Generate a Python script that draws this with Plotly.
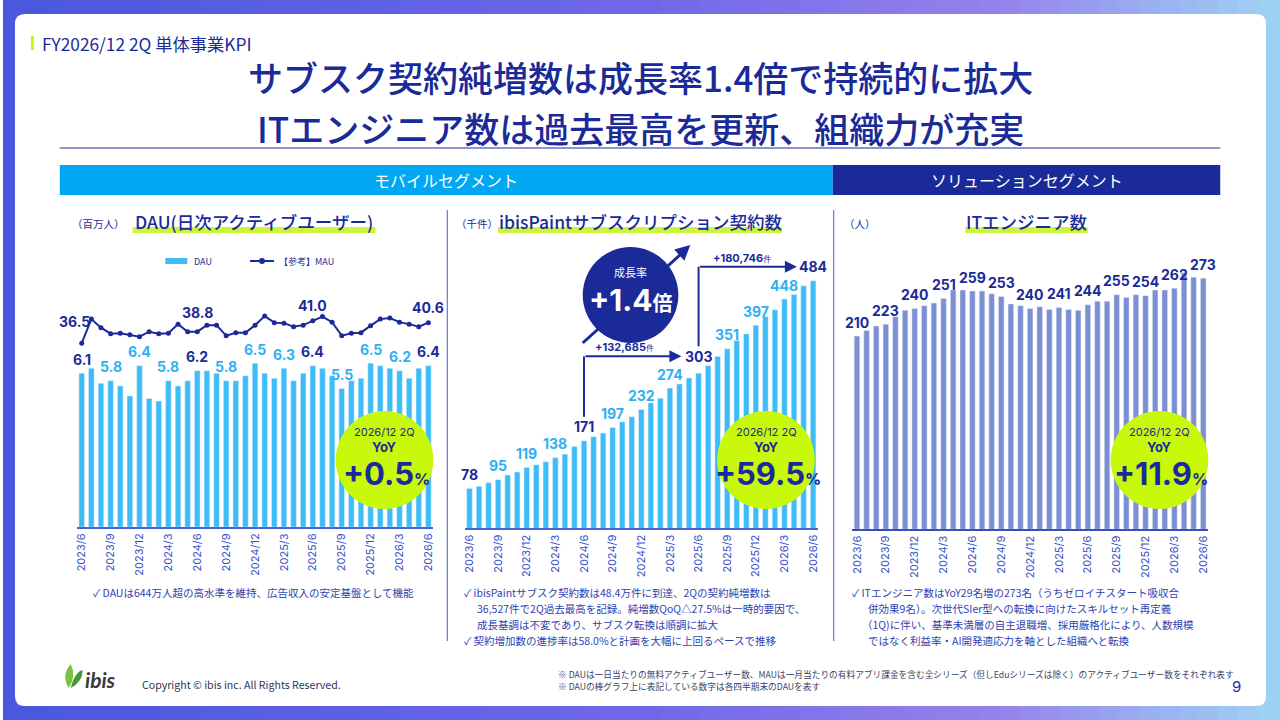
import plotly.graph_objects as go

# ---- data ----
months = []
for yr in range(2023, 2027):
    for mo in range(1, 13):
        if (yr, mo) >= (2023, 6) and (yr, mo) <= (2026, 6):
            months.append(f"{yr}/{mo}")

quarter_ticks = ["2023/6", "2023/9", "2023/12", "2024/3", "2024/6", "2024/9", "2024/12",
                 "2025/3", "2025/6", "2025/9", "2025/12", "2026/3", "2026/6"]

# DAU (million), monthly
dau = [6.1, 6.3, 5.7, 5.8, 5.6, 5.2, 6.4, 5.1, 5.0, 5.8, 5.6, 5.8, 6.2, 6.2, 6.1, 5.8, 5.8, 6.0,
       6.5, 6.1, 5.9, 6.3, 5.8, 6.1, 6.4, 6.3, 6.0, 5.5, 5.8, 5.9, 6.5, 6.4, 6.3, 6.2, 5.9, 6.3, 6.4]
# MAU (million), reference line
mau = [36.5, 41.3, 39.6, 38.4, 38.5, 38.2, 37.8, 38.8, 38.4, 38.5, 40.3, 38.8, 38.8, 40.1, 40.1,
       38.0, 38.6, 38.6, 40.1, 41.9, 40.6, 40.5, 39.8, 40.1, 41.0, 41.8, 40.7, 38.0, 38.5, 38.6,
       40.0, 41.3, 41.5, 40.7, 40.3, 39.8, 40.6]
mau_labelled = ["2023/6", "2024/6", "2025/6", "2026/6"]
# ibisPaint subscriptions (thousand)
subs = [78, 82, 89, 95, 104, 110, 119, 124, 130, 138, 145, 160, 171, 179, 186, 197, 208, 218, 232,
        245, 254, 274, 282, 294, 303, 318, 336, 351, 367, 380, 397, 414, 427, 448, 457, 474, 484]
# IT engineers (people)
engineers = [210, 216, 221, 223, 231, 238, 240, 243, 246, 251, 260, 260, 259, 259, 256, 253, 245,
             243, 240, 242, 239, 241, 239, 238, 244, 248, 248, 255, 252, 255, 254, 260, 260, 262,
             279, 274, 273]

yoy = ["+0.5", "+59.5", "+11.9"]
growth_rate = "+1.4"
net_adds = ["+132,685", "+180,746"]

# ---- styling ----
W, H = 1280, 720
FONT = "Noto Sans CJK JP"
NUM = "Inter, Noto Sans CJK JP"
NAVY = "#1B2A99"
SKY = "#3DBDF8"
SKY_TXT = "#2FB0F2"
SEG_BLUE = "#00A8F4"
PERI = "#7D8FD3"
LIME = "#C8F80A"
TICK = "#3550C8"
NOTE = "#2E42B0"


def fx(p):
    return p / W


def fy(p):
    return 1 - p / H


def dom(a, b, size):
    return [a / size, b / size]


shapes = []
annotations = []


def txt(x, y, text, size, color=NAVY, anchor="center", family=FONT, weight=None):
    f = dict(family=family, size=size, color=color)
    if weight:
        f["weight"] = weight
    annotations.append(dict(x=fx(x), y=fy(y), xref="paper", yref="paper", text=text,
                            showarrow=False, xanchor=anchor, yanchor="middle", font=f))


def rect(x0, y0, x1, y1, color, layer="above"):
    shapes.append(dict(type="rect", xref="paper", yref="paper", x0=fx(x0), x1=fx(x1),
                       y0=fy(y1), y1=fy(y0), fillcolor=color, line=dict(width=0), layer=layer))


def line(x0, y0, x1, y1, color, width=1, layer="above"):
    shapes.append(dict(type="line", xref="paper", yref="paper", x0=fx(x0), x1=fx(x1),
                       y0=fy(y0), y1=fy(y1), line=dict(color=color, width=width), layer=layer))


def circle(cx, cy, r, color):
    shapes.append(dict(type="circle", xref="paper", yref="paper", x0=fx(cx - r), x1=fx(cx + r),
                       y0=fy(cy + r), y1=fy(cy - r), fillcolor=color, line=dict(width=0)))


# background gradient frame
stops = [(0.0, (74, 88, 222)), (0.5, (112, 104, 232)), (0.78, (150, 130, 236)), (1.0, (158, 212, 245))]
n = 64
for i in range(n):
    t = (i + 0.5) / n
    for (t0, c0), (t1, c1) in zip(stops[:-1], stops[1:]):
        if t0 <= t <= t1:
            u = (t - t0) / (t1 - t0)
            c = tuple(int(c0[k] + (c1[k] - c0[k]) * u) for k in range(3))
    shapes.append(dict(type="rect", xref="paper", yref="paper", x0=i / n, x1=(i + 1) / n + 0.002,
                       y0=0, y1=1, fillcolor="rgb(%d,%d,%d)" % c, line=dict(width=0), layer="below"))

# white card with rounded corners
x0, y0, x1, y1, r = 12, 14, 1268, 706, 10
pts = [("M", x0 + r, y0), ("L", x1 - r, y0), ("Q", x1, y0, x1, y0 + r), ("L", x1, y1 - r),
       ("Q", x1, y1, x1 - r, y1), ("L", x0 + r, y1), ("Q", x0, y1, x0, y1 - r), ("L", x0, y0 + r),
       ("Q", x0, y0, x0 + r, y0)]
path = ""
for p in pts:
    coords = p[1:]
    path += p[0] + " " + " ".join("%.5f,%.5f" % (fx(coords[j]), fy(coords[j + 1]))
                                  for j in range(0, len(coords), 2)) + " "
shapes.append(dict(type="path", xref="paper", yref="paper", path=path + "Z",
                   fillcolor="white", line=dict(width=0), layer="below"))

# header
rect(28, 36, 31, 50, LIME)
txt(37, 43, "FY2026/12 2Q 単体事業KPI", 17.3, anchor="left")
txt(640, 77, "サブスク契約純増数は成長率1.4倍で持続的に拡大", 35, weight=500)
txt(640, 127, "ITエンジニア数は過去最高を更新、組織力が充実", 35, weight=500)
line(57, 148, 1222, 148, NAVY, 1)

# segment banners
rect(57, 165, 833, 195, SEG_BLUE)
rect(833, 165, 1222, 195, NAVY)
txt(445, 180, "モバイルセグメント", 16, "white")
txt(1028, 180, "ソリューションセグメント", 16, "white")

# panel separators
line(446, 210, 446, 641, "#4A5BC0", 1)
line(834, 210, 834, 641, "#4A5BC0", 1)

# chart titles with lime highlighter
for unit, ux, title, tx, hx0, hx1 in [("（百万人）", 96, "DAU(日次アクティブユーザー)", 252, 130, 374),
                                      ("（千件）", 476, "ibisPaintサブスクリプション契約数", 640, 497, 782),
                                      ("（人）", 860, "ITエンジニア数", 1028, 966, 1089)]:
    rect(hx0, 227, hx1, 233, "#CBF53A")
    txt(ux, 223, unit, 10.5)
    txt(tx, 221, title, 17.5, weight=500)

# DAU legend
rect(163, 258, 185, 264, SKY)
txt(190, 261, "DAU", 9, anchor="left")
line(248, 261, 272, 261, NAVY, 2)
circle(260, 261, 3, NAVY)
txt(275, 261, "【参考】MAU", 9, anchor="left")

# ---- traces ----
fig = go.Figure()
fig.add_trace(go.Bar(x=months, y=dau, marker_color=SKY, xaxis="x", yaxis="y", name="DAU"))
fig.add_trace(go.Scatter(x=months, y=mau, mode="lines+markers", xaxis="x", yaxis="y4",
                         line=dict(color=NAVY, width=2), marker=dict(size=5, color=NAVY),
                         name="【参考】MAU"))
fig.add_trace(go.Bar(x=months, y=subs, marker_color=SKY, xaxis="x2", yaxis="y2", name="subs"))
fig.add_trace(go.Bar(x=months, y=engineers, marker_color=PERI, xaxis="x3", yaxis="y3", name="eng"))

# value labels on quarter ends
for m in quarter_ticks:
    i = months.index(m)
    june = m.endswith("/6")
    annotations.append(dict(x=m, y=dau[i], xref="x", yref="y", text="<b>%.1f</b>" % dau[i],
                            showarrow=False, yshift=14, font=dict(family=NUM, size=14,
                            color=NAVY if june else SKY_TXT)))
    if i not in (24, 36):
        annotations.append(dict(x=m, y=subs[i], xref="x2", yref="y2", text="<b>%d</b>" % subs[i],
                                showarrow=False, yshift=14, font=dict(family=NUM, size=14,
                                color=NAVY if june else SKY_TXT)))
    annotations.append(dict(x=m, y=engineers[i], xref="x3", yref="y3", text="<b>%d</b>" % engineers[i],
                            showarrow=False, yshift=14, font=dict(family=NUM, size=14, color=NAVY)))

for k, m in enumerate(mau_labelled):
    i = months.index(m)
    annotations.append(dict(x=m, y=mau[i], xref="x", yref="y4", text="<b>%.1f</b>" % mau[i],
                            showarrow=False, yshift=22 if k == 0 else (19 if k == 1 else 15),
                            xshift=-7 if k == 0 else 0,
                            font=dict(family=NUM, size=14, color=NAVY)))

# step arrows on subscription chart
k2 = (528.3 - 240) / 563.5          # px per thousand on y2
i_a, i_b, i_c = months.index("2024/6"), months.index("2025/6"), months.index("2026/6")
lvl1 = subs[i_b] + 17 / k2
lvl2 = subs[i_c] + 14 / k2
shapes.append(dict(type="line", xref="x2", yref="y2", x0=i_a, x1=i_a, y0=subs[i_a] + 24 / k2,
                   y1=lvl1, line=dict(color=NAVY, width=2)))
shapes.append(dict(type="line", xref="x2", yref="y2", x0=i_b, x1=i_b, y0=subs[i_b] + 27 / k2,
                   y1=lvl2, line=dict(color=NAVY, width=2)))
annotations.append(dict(x=i_b - 1.8, y=lvl1, ax=i_a, ay=lvl1, xref="x2", yref="y2", axref="x2",
                        ayref="y2", text="", showarrow=True, arrowhead=2, arrowsize=1.2,
                        arrowwidth=2, arrowcolor=NAVY))
annotations.append(dict(x=i_c - 1.7, y=lvl2, ax=i_b, ay=lvl2, xref="x2", yref="y2", axref="x2",
                        ayref="y2", text="", showarrow=True, arrowhead=2, arrowsize=1.2,
                        arrowwidth=2, arrowcolor=NAVY))
annotations.append(dict(x=i_b, y=lvl1, xref="x2", yref="y2", text="<b>%d</b>" % subs[i_b],
                        showarrow=False, font=dict(family=NUM, size=14, color=NAVY)))
annotations.append(dict(x=i_c, y=lvl2, xref="x2", yref="y2", text="<b>%d</b>" % subs[i_c],
                        showarrow=False, font=dict(family=NUM, size=14, color=NAVY)))
annotations.append(dict(x=(i_a + i_b) / 2 - 1.8, y=lvl1, xref="x2", yref="y2", yshift=9,
                        text="<b>%s</b><span style='font-size:8px'>件</span>" % net_adds[0],
                        showarrow=False, font=dict(family=NUM, size=11, color=NAVY)))
annotations.append(dict(x=(i_b + i_c) / 2 - 1.4, y=lvl2, xref="x2", yref="y2", yshift=9,
                        text="<b>%s</b><span style='font-size:8px'>件</span>" % net_adds[1],
                        showarrow=False, font=dict(family=NUM, size=11, color=NAVY)))

# growth-rate badge with diagonal arrow behind it
line(582, 343, 684, 251, NAVY, 3)
annotations.append(dict(x=fx(690), y=fy(245), xref="paper", yref="paper", ax=-12, ay=11,
                        text="", showarrow=True, arrowhead=2, arrowsize=1, arrowwidth=3,
                        arrowcolor=NAVY))
circle(630, 295, 48, NAVY)
txt(630, 272, "成長率", 11, "white")
txt(630, 300, "<b>%s</b><span style='font-size:20px'><b>倍</b></span>" % growth_rate, 30,
    "white", family=NUM)

# YoY badges
for cx, val in zip([383, 766, 1161], yoy):
    circle(cx, 460, 49, LIME)
    txt(cx, 432, "2026/12 2Q", 11, family=NUM)
    txt(cx, 447, "<b>YoY</b>", 13, family=NUM)
    txt(cx + 2, 473, "<b>%s</b><span style='font-size:16px'><b>%%</b></span>" % val, 31, family=NUM)

# bullet notes
txt(88, 592, "✓ DAUは644万人超の高水準を維持、広告収入の安定基盤として機能", 10.5, NOTE, "left")
txt(461, 592, "✓ ibisPaintサブスク契約数は48.4万件に到達、2Qの契約純増数は", 10.5, NOTE, "left")
txt(474, 608, "36,527件で2Q過去最高を記録。純増数QoQ△27.5%は一時的要因で、", 10.5, NOTE, "left")
txt(474, 624, "成長基調は不変であり、サブスク転換は順調に拡大", 10.5, NOTE, "left")
txt(461, 640, "✓ 契約増加数の進捗率は58.0%と計画を大幅に上回るペースで推移", 10.5, NOTE, "left")
txt(850, 592, "✓ ITエンジニア数はYoY29名増の273名（うちゼロイチスタート吸収合", 10.5, NOTE, "left")
txt(866, 608, "併効果9名）。次世代SIer型への転換に向けたスキルセット再定義", 10.5, NOTE, "left")
txt(860, 624, "（1Q)に伴い、基準未満層の自主退職増、採用厳格化により、人数規模", 10.5, NOTE, "left")
txt(866, 640, "ではなく利益率・AI開発適応力を軸とした組織へと転換", 10.5, NOTE, "left")

# footer
leaf1 = "M %f,%f Q %f,%f %f,%f Q %f,%f %f,%f Z" % (fx(66), fy(688), fx(58), fy(676), fx(68), fy(664),
                                                   fx(74), fy(676), fx(66), fy(688))
leaf2 = "M %f,%f Q %f,%f %f,%f Q %f,%f %f,%f Z" % (fx(68), fy(688), fx(72), fy(672), fx(80), fy(670),
                                                   fx(80), fy(682), fx(68), fy(688))
shapes.append(dict(type="path", xref="paper", yref="paper", path=leaf1, fillcolor="#7CC243",
                   line=dict(width=0)))
shapes.append(dict(type="path", xref="paper", yref="paper", path=leaf2, fillcolor="#3E9A3A",
                   line=dict(width=0)))
txt(80, 679, "<i><b>ibis</b></i>", 21, "#3A3A3A", "left", family="Lato")
txt(138, 684, "Copyright © ibis inc. All Rights Reserved.", 10.6, "#333355", "left")
txt(555, 674, "※ DAUは一日当たりの無料アクティブユーザー数、MAUは一月当たりの有料アプリ課金を含む全シリーズ（但しEduシリーズは除く）のアクティブユーザー数をそれぞれ表す",
    8.7, "#3A3F66", "left")
txt(555, 686, "※ DAUの棒グラフ上に表記している数字は各四半期末のDAUを表す", 8.7, "#3A3F66", "left")
txt(1238, 686, "9", 15, NAVY, family=NUM)

# ---- axes ----
xcommon = dict(type="category", range=[-0.5, len(months) - 0.5], autorange=False,
               tickmode="array", tickvals=quarter_ticks, ticktext=quarter_ticks,
               tickangle=-90, tickfont=dict(family=NUM, size=11, color=TICK), showgrid=False,
               showline=True, linewidth=2, ticks="", fixedrange=True)
fig.update_layout(
    width=W, height=H, margin=dict(l=0, r=0, t=0, b=0),
    paper_bgcolor="white", plot_bgcolor="rgba(0,0,0,0)",
    showlegend=False, bargap=0.42, hovermode=False,
    font=dict(family=FONT, color=NAVY),
    xaxis=dict(domain=dom(74.2, 431.9, W), anchor="y", linecolor="#4A63D0", **xcommon),
    yaxis=dict(domain=[fy(527), fy(290)], range=[0, 9.405], visible=False, fixedrange=True),
    yaxis4=dict(domain=[fy(527), fy(290)], range=[-0.1, 47.1], overlaying="y", visible=False),
    xaxis2=dict(domain=dom(463.5, 818.1, W), anchor="y2", linecolor="#4A63D0", **xcommon),
    yaxis2=dict(domain=[fy(528.3), fy(240)], range=[0, 563.5], visible=False, anchor="x2"),
    xaxis3=dict(domain=dom(852.5, 1209.8, W), anchor="y3", linecolor="#3A4EB8", **xcommon),
    yaxis3=dict(domain=[fy(529.3), fy(250)], range=[0, 303.6], visible=False, anchor="x3"),
    shapes=shapes, annotations=annotations,
)

# the page body has a default 8px margin; drop it so the slide fills the window
fig.write_html("out.html", config={"displayModeBar": False},
               post_script="document.body.style.margin='0';")
